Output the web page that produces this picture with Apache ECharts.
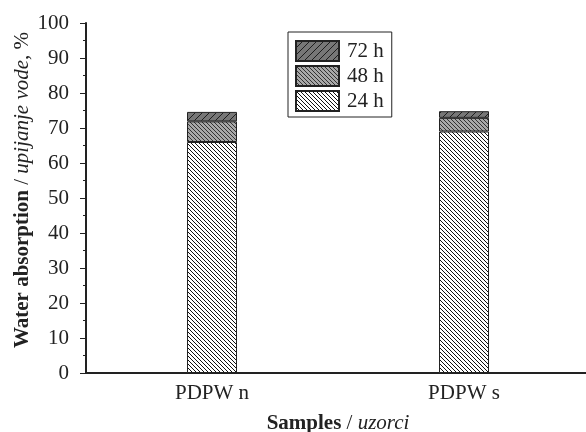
<!DOCTYPE html>
<html>
<head>
<meta charset="utf-8">
<script src="https://cdn.jsdelivr.net/npm/echarts@6/dist/echarts.min.js"></script>
<style>
  html, body { margin: 0; padding: 0; background: #fff; }
  #chart { width: 586px; height: 432px; }
</style>
</head>
<body>
<div id="chart"></div>
<script>
const categories = ['PDPW n', 'PDPW s'];
const seriesNames = ['24 h', '48 h', '72 h'];
const values24h = [66, 69];
const values48h = [5.9, 3.9];
const values72h = [2.7, 1.9];
const yTicks = [0, 100, 10];

// hatch fill tile: dir 1 = "\\", -1 = "/"
function hatch(size, bg, fg, dir, lw) {
  const c = document.createElement('canvas');
  c.width = size; c.height = size;
  const ctx = c.getContext('2d');
  ctx.fillStyle = bg;
  ctx.fillRect(0, 0, size, size);
  ctx.strokeStyle = fg;
  ctx.lineWidth = lw;
  ctx.beginPath();
  for (let k = -1; k <= 1; k++) {
    if (dir > 0) {
      ctx.moveTo(k * size, 0); ctx.lineTo(k * size + size, size);
    } else {
      ctx.moveTo(k * size, size); ctx.lineTo(k * size + size, 0);
    }
  }
  ctx.stroke();
  return { image: c, repeat: 'repeat' };
}

const fills = [
  hatch(4, '#ffffff', '#111111', 1, 1),
  hatch(4, '#a8a8a8', '#333333', 1, 1),
  hatch(7, '#777777', '#1e1e1e', -1, 1)
];

const serif = '"Liberation Serif", "DejaVu Serif", serif';
const fs = 21;
const rich = {
  b: { fontWeight: 'bold', fontSize: fs, fontFamily: serif, color: '#222' },
  i: { fontStyle: 'italic', fontSize: fs, fontFamily: serif, color: '#222' }
};
const chart = echarts.init(document.getElementById('chart'));

const data = [values24h, values48h, values72h];
const series = seriesNames.map((name, i) => ({
  name: name,
  type: 'bar',
  stack: 'total',
  barWidth: 50,
  data: data[i],
  itemStyle: { color: fills[i], borderColor: '#222', borderWidth: 1 }
}));

chart.setOption({
  animation: false,
  textStyle: { fontFamily: serif },
  grid: { left: 86, right: -4, top: 23, bottom: 59, outerBoundsMode: 'none' },
  legend: {
    data: ['72 h', '48 h', '24 h'],
    orient: 'vertical',
    left: 288,
    top: 32,
    padding: [8, 8, 5, 7],
    itemGap: 3,
    itemWidth: 43,
    itemHeight: 20,
    icon: 'rect',
    borderColor: '#222',
    borderWidth: 1,
    textStyle: { fontFamily: serif, fontSize: fs, color: '#222', padding: [0, 0, 0, 3] }
  },
  xAxis: [{
    type: 'category',
    data: categories,
    name: '{b|Samples} / {i|uzorci}',
    nameLocation: 'middle',
    nameGap: 40,
    nameTextStyle: { fontSize: fs, color: '#222', fontFamily: serif, rich: rich },
    axisLine: { lineStyle: { color: '#222', width: 2 } },
    axisTick: { alignWithLabel: true, length: 5, lineStyle: { color: '#222' } },
    axisLabel: { fontSize: fs, color: '#222', fontFamily: serif, margin: 10 }
  }, {
    type: 'category',
    data: categories,
    position: 'bottom',
    axisLine: { show: false },
    axisTick: { length: 3, lineStyle: { color: '#222' } },
    axisLabel: { show: false }
  }],
  yAxis: {
    type: 'value',
    min: yTicks[0],
    max: yTicks[1],
    interval: yTicks[2],
    name: '{b|Water absorption} / {i|upijanje vode}, %',
    nameLocation: 'middle',
    nameGap: 53,
    nameMoveOverlap: false,
    nameTextStyle: { fontSize: fs, color: '#222', fontFamily: serif, rich: rich, padding: [0, 0, 0, 16] },
    axisLine: { show: true, lineStyle: { color: '#222', width: 2 } },
    axisTick: { show: true, length: 6, lineStyle: { color: '#222' } },
    minorTick: { show: true, splitNumber: 2, length: 3, lineStyle: { color: '#222' } },
    splitLine: { show: false },
    axisLabel: { fontSize: fs, color: '#222', fontFamily: serif, margin: 17 }
  },
  series: series
});
</script>
</body>
</html>
